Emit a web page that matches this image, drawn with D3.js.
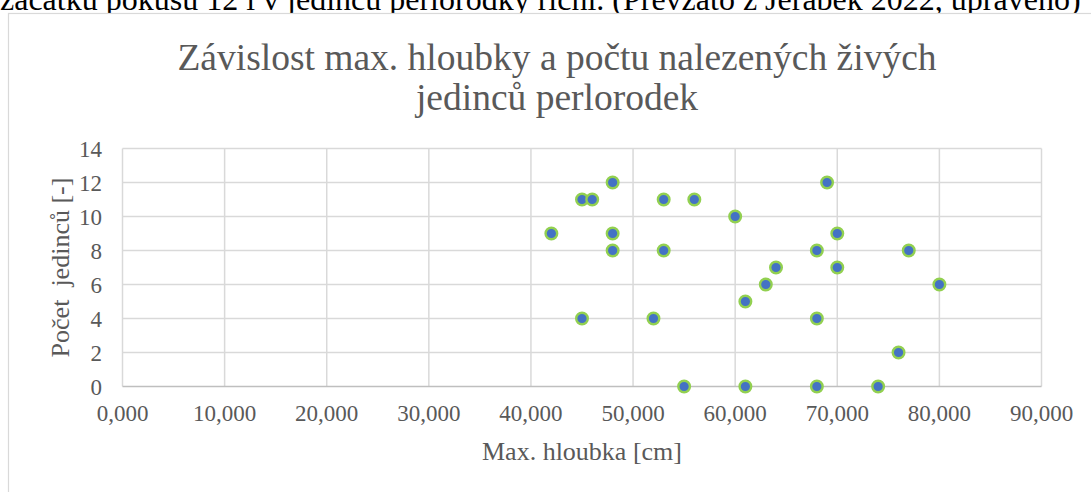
<!DOCTYPE html>
<html>
<head>
<meta charset="utf-8">
<script src="https://cdn.jsdelivr.net/npm/d3@7"></script>
<style>
  html, body { margin: 0; padding: 0; background: #fff; overflow: hidden; }
  svg { display: block; }
</style>
</head>
<body>
<svg id="chart"></svg>
<script>
// data
const depth = [48, 69, 45, 46, 53, 56, 60, 42, 48, 70, 48, 53, 68, 77, 64, 70, 63, 80, 61, 45, 52, 68, 76, 55, 61, 68, 74];
const count = [12, 12, 11, 11, 11, 11, 10, 9, 9, 9, 8, 8, 8, 8, 7, 7, 6, 6, 5, 4, 4, 4, 2, 0, 0, 0, 0];
const xTicks = [0, 10, 20, 30, 40, 50, 60, 70, 80, 90];
const yTicks = [0, 2, 4, 6, 8, 10, 12, 14];
const titleLines = ["Závislost max. hloubky a počtu nalezených živých", "jedinců perlorodek"];
const captionText = "začátku pokusu 12 l v jedinců perlorodky říční. (Převzato z Jeřábek 2022, upraveno)";

var W = 1091, H = 492;
var plot = { left: 122.5, right: 1041.5, top: 148.5, bottom: 386.5 };
var serif = "'Liberation Serif', 'Times New Roman', serif";
var grey = "#595959";

const svg = d3.select("#chart").attr("width", W).attr("height", H);

// caption line, cut off at top of the page
svg.append("text")
    .attr("x", 0).attr("y", 10)
    .attr("font-family", serif).attr("font-size", 32)
    .attr("fill", "#000")
    .text(captionText);

// chart frame (white fill hides the caption's descenders like the reference)
svg.append("rect")
    .attr("x", 8.5).attr("y", 13.5)
    .attr("width", 1200).attr("height", 600)
    .attr("fill", "#fff").attr("stroke", "#d9d9d9").attr("stroke-width", 1.2);

var x = d3.scaleLinear().domain([0, 90]).range([plot.left, plot.right]);
var y = d3.scaleLinear().domain([0, 14]).range([plot.bottom, plot.top]);

// grid
svg.append("g")
    .selectAll("line")
    .data(xTicks)
    .join("line")
    .attr("x1", d => x(d)).attr("x2", d => x(d))
    .attr("y1", plot.top).attr("y2", plot.bottom)
    .attr("stroke", "#d9d9d9").attr("stroke-width", 1.5);

svg.append("g")
    .selectAll("line")
    .data(yTicks.filter(d => d > 0))
    .join("line")
    .attr("x1", plot.left).attr("x2", plot.right)
    .attr("y1", d => y(d)).attr("y2", d => y(d))
    .attr("stroke", "#d9d9d9").attr("stroke-width", 1.5);

// x axis line
svg.append("line")
    .attr("x1", plot.left).attr("x2", plot.right)
    .attr("y1", y(0)).attr("y2", y(0))
    .attr("stroke", "#bfbfbf").attr("stroke-width", 1.5);

// tick labels
svg.append("g")
    .attr("font-family", serif).attr("font-size", 23).attr("fill", grey)
    .selectAll("text")
    .data(xTicks)
    .join("text")
    .attr("x", d => x(d))
    .attr("y", 421)
    .attr("text-anchor", "middle")
    .text(d => d + ",000");

svg.append("g")
    .attr("font-family", serif).attr("font-size", 23).attr("fill", grey)
    .selectAll("text")
    .data(yTicks)
    .join("text")
    .attr("x", 102)
    .attr("y", d => y(d) + 8)
    .attr("text-anchor", "end")
    .text(d => d);

// axis titles
svg.append("text")
    .attr("x", (plot.left + plot.right) / 2)
    .attr("y", 460)
    .attr("text-anchor", "middle")
    .attr("font-family", serif).attr("font-size", 26).attr("fill", grey)
    .text("Max. hloubka [cm]");

svg.append("text")
    .attr("transform", "translate(69," + (plot.top + plot.bottom) / 2 + ") rotate(-90)")
    .attr("text-anchor", "middle")
    .attr("font-family", serif).attr("font-size", 26).attr("fill", grey)
    .attr("xml:space", "preserve")
    .text("Počet  jedinců [-]");

// title
svg.append("g")
    .attr("font-family", serif).attr("font-size", 37.5).attr("fill", grey)
    .selectAll("text")
    .data(titleLines)
    .join("text")
    .attr("x", 557)
    .attr("y", (d, i) => 70 + i * 40)
    .attr("text-anchor", "middle")
    .text(d => d);

// points
svg.append("g")
    .selectAll("circle")
    .data(depth.map((d, i) => [d, count[i]]))
    .join("circle")
    .attr("cx", d => x(d[0]))
    .attr("cy", d => y(d[1]))
    .attr("r", 5.8)
    .attr("fill", "#4472c4")
    .attr("stroke", "#92d050")
    .attr("stroke-width", 2.4);
</script>
</body>
</html>
